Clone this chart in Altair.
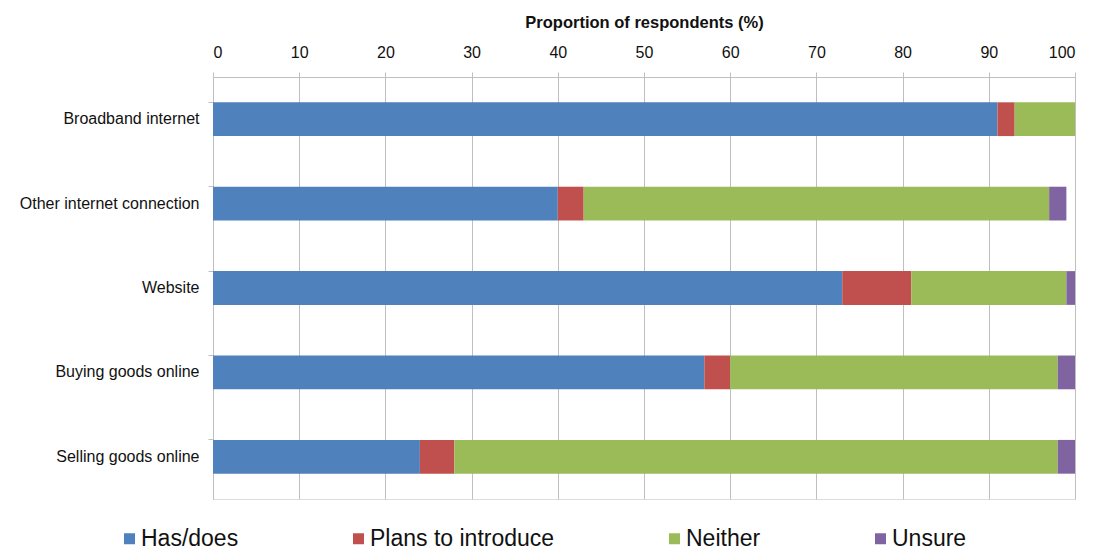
import altair as alt
import pandas as pd

# Share of respondents (%) by technology item, stacked by response
categories = [
    "Broadband internet",
    "Other internet connection",
    "Website",
    "Buying goods online",
    "Selling goods online",
]
has_does = [91, 40, 73, 57, 24]
plans_to_introduce = [2, 3, 8, 3, 4]
neither = [7, 54, 18, 38, 70]
unsure = [0, 2, 1, 2, 2]

series_names = ["Has/does", "Plans to introduce", "Neither", "Unsure"]
series_colors = ["#4F81BD", "#C0504D", "#9BBB59", "#8064A2"]
x_ticks = list(range(0, 101, 10))

series_values = [has_does, plans_to_introduce, neither, unsure]
rows = []
for i, cat in enumerate(categories):
    for k, name in enumerate(series_names):
        rows.append({"category": cat, "series": name, "order": k,
                     "value": series_values[k][i]})
df = pd.DataFrame(rows)

FONT = "Liberation Sans"
GRID = "#bfbfbf"

chart = alt.Chart(df).mark_bar().encode(
    y=alt.Y(
        "category:N",
        sort=categories,
        scale=alt.Scale(paddingInner=0.6, paddingOuter=0.3),
        axis=alt.Axis(
            title=None,
            bandPosition=0,
            ticks=True,
            tickSize=5,
            tickColor=GRID,
            domainColor=GRID,
            labelPadding=9,
            labelFont=FONT,
            labelFontSize=16,
            labelColor="#111111",
            labelLimit=300,
            grid=False,
        ),
    ),
    x=alt.X(
        "value:Q",
        stack="zero",
        scale=alt.Scale(domain=[0, 100], nice=False),
        axis=alt.Axis(
            orient="top",
            values=x_ticks,
            title="Proportion of respondents (%)",
            titleFont=FONT,
            titleFontSize=16.5,
            titleFontWeight="bold",
            titleColor="#111111",
            titlePadding=14,
            labelFont=FONT,
            labelFontSize=16,
            labelColor="#111111",
            labelPadding=12,
            tickSize=5,
            tickColor=GRID,
            domainColor=GRID,
            grid=True,
            gridColor=GRID,
            gridWidth=1,
        ),
    ),
    color=alt.Color(
        "series:N",
        scale=alt.Scale(domain=series_names, range=series_colors),
        legend=alt.Legend(
            title=None,
            orient="none",
            legendX=-95,
            legendY=450,
            direction="horizontal",
            columns=4,
            columnPadding=108,
            symbolType="square",
            symbolSize=121,
            symbolStrokeWidth=0,
            labelFont=FONT,
            labelFontSize=23,
            labelColor="#111111",
            labelOffset=0,
            labelLimit=400,
            padding=0,
        ),
    ),
    order=alt.Order("order:Q"),
).properties(
    width=862,
    height=422,
    padding={"left": 213, "top": 77, "right": 24, "bottom": 53},
    autosize=alt.AutoSizeParams(type="none"),
).configure_view(stroke=None).configure(background="white")

chart.save("out.html", embed_options={"renderer": "svg", "actions": False})
